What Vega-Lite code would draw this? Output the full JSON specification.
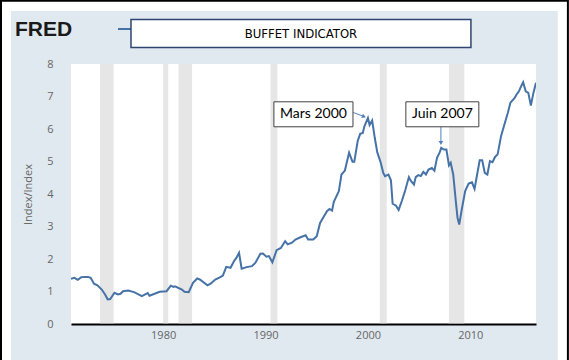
{
  "$schema": "https://vega.github.io/schema/vega-lite/v6.json",
  "width": 465,
  "height": 260,
  "autosize": {"type": "none"},
  "padding": {"left": 71, "top": 64, "right": 33, "bottom": 36},
  "background": "#e1e9f0",
  "config": {
    "view": {"stroke": null, "fill": "white"},
    "axis": {"labelFont": "Open Sans", "labelFontSize": 11, "labelColor": "#666666", "ticks": false, "domain": false, "titleFont": "Open Sans", "titleFontSize": 11, "titleFontWeight": "normal", "titleColor": "#666666"},
    "axisX": {"domain": true, "domainColor": "#000000", "domainWidth": 2, "grid": false, "labelPadding": 5},
    "axisY": {"grid": true, "gridColor": "#d9d9d9", "gridWidth": 1, "labelPadding": 18, "titlePadding": 13}
  },
  "resolve": {"scale": {"y": "independent"}},
  "datasets": {
    "series": [
      {"date":"1971-01-01","value":1.39},{"date":"1971-05-01","value":1.42},{"date":"1971-09-01","value":1.36},{"date":"1972-01-01","value":1.44},{"date":"1972-06-01","value":1.45},{"date":"1972-09-01","value":1.45},{"date":"1972-12-01","value":1.42},{"date":"1973-04-01","value":1.24},{"date":"1973-08-01","value":1.19},{"date":"1974-01-01","value":1.06},{"date":"1974-05-01","value":0.91},{"date":"1974-08-01","value":0.76},{"date":"1974-11-01","value":0.77},{"date":"1975-04-01","value":0.96},{"date":"1975-08-01","value":0.91},{"date":"1975-11-01","value":0.93},{"date":"1976-02-01","value":1.01},{"date":"1976-08-01","value":1.03},{"date":"1977-03-01","value":0.98},{"date":"1977-12-01","value":0.86},{"date":"1978-07-01","value":0.95},{"date":"1978-09-01","value":0.87},{"date":"1979-03-01","value":0.93},{"date":"1979-09-01","value":0.99},{"date":"1980-05-01","value":1.01},{"date":"1980-10-01","value":1.18},{"date":"1981-01-01","value":1.14},{"date":"1981-03-01","value":1.16},{"date":"1981-11-01","value":1.06},{"date":"1982-02-01","value":0.99},{"date":"1982-07-01","value":0.98},{"date":"1982-12-01","value":1.27},{"date":"1983-05-01","value":1.40},{"date":"1983-08-01","value":1.37},{"date":"1984-05-01","value":1.19},{"date":"1984-09-01","value":1.25},{"date":"1985-02-01","value":1.37},{"date":"1985-08-01","value":1.44},{"date":"1985-11-01","value":1.49},{"date":"1986-03-01","value":1.76},{"date":"1986-08-01","value":1.73},{"date":"1986-12-01","value":1.93},{"date":"1987-03-01","value":2.04},{"date":"1987-06-01","value":2.19},{"date":"1987-09-01","value":1.70},{"date":"1988-03-01","value":1.75},{"date":"1988-09-01","value":1.78},{"date":"1989-01-01","value":1.88},{"date":"1989-07-01","value":2.16},{"date":"1989-10-01","value":2.17},{"date":"1990-02-01","value":2.07},{"date":"1990-05-01","value":2.09},{"date":"1990-09-01","value":1.90},{"date":"1991-02-01","value":2.27},{"date":"1991-07-01","value":2.34},{"date":"1991-12-01","value":2.55},{"date":"1992-03-01","value":2.45},{"date":"1992-08-01","value":2.50},{"date":"1992-12-01","value":2.60},{"date":"1993-06-01","value":2.67},{"date":"1993-12-01","value":2.73},{"date":"1994-03-01","value":2.60},{"date":"1994-09-01","value":2.60},{"date":"1995-01-01","value":2.70},{"date":"1995-05-01","value":3.11},{"date":"1995-09-01","value":3.29},{"date":"1996-01-01","value":3.47},{"date":"1996-04-01","value":3.54},{"date":"1996-07-01","value":3.49},{"date":"1996-09-01","value":3.76},{"date":"1997-01-01","value":3.98},{"date":"1997-03-01","value":4.09},{"date":"1997-06-01","value":4.60},{"date":"1997-10-01","value":4.72},{"date":"1998-03-01","value":5.27},{"date":"1998-07-01","value":4.99},{"date":"1998-09-01","value":4.99},{"date":"1999-01-01","value":5.63},{"date":"1999-04-01","value":5.85},{"date":"1999-07-01","value":5.88},{"date":"1999-09-01","value":6.09},{"date":"2000-01-01","value":6.34},{"date":"2000-03-01","value":6.12},{"date":"2000-06-01","value":6.26},{"date":"2000-09-01","value":5.73},{"date":"2000-12-01","value":5.28},{"date":"2001-04-01","value":4.97},{"date":"2001-07-01","value":4.65},{"date":"2001-09-01","value":4.55},{"date":"2002-01-01","value":4.60},{"date":"2002-04-01","value":4.42},{"date":"2002-06-01","value":3.70},{"date":"2002-10-01","value":3.64},{"date":"2003-01-01","value":3.51},{"date":"2003-05-01","value":3.80},{"date":"2003-09-01","value":4.14},{"date":"2004-01-01","value":4.52},{"date":"2004-03-01","value":4.42},{"date":"2004-07-01","value":4.29},{"date":"2004-09-01","value":4.52},{"date":"2004-12-01","value":4.58},{"date":"2005-03-01","value":4.55},{"date":"2005-06-01","value":4.68},{"date":"2005-09-01","value":4.60},{"date":"2005-12-01","value":4.75},{"date":"2006-04-01","value":4.80},{"date":"2006-07-01","value":4.72},{"date":"2006-10-01","value":5.11},{"date":"2007-01-01","value":5.27},{"date":"2007-03-01","value":5.42},{"date":"2007-06-01","value":5.37},{"date":"2007-09-01","value":5.37},{"date":"2007-12-01","value":4.88},{"date":"2008-02-01","value":4.96},{"date":"2008-05-01","value":4.60},{"date":"2008-08-01","value":3.78},{"date":"2008-10-01","value":3.27},{"date":"2008-12-01","value":3.06},{"date":"2009-03-01","value":3.52},{"date":"2009-07-01","value":4.09},{"date":"2009-11-01","value":4.32},{"date":"2010-03-01","value":4.36},{"date":"2010-06-01","value":4.16},{"date":"2010-09-01","value":4.60},{"date":"2010-12-01","value":5.04},{"date":"2011-03-01","value":5.04},{"date":"2011-06-01","value":4.65},{"date":"2011-09-01","value":4.60},{"date":"2011-12-01","value":5.01},{"date":"2012-03-01","value":4.98},{"date":"2012-06-01","value":5.14},{"date":"2012-09-01","value":5.22},{"date":"2013-01-01","value":5.78},{"date":"2013-05-01","value":6.14},{"date":"2013-09-01","value":6.50},{"date":"2013-12-01","value":6.81},{"date":"2014-05-01","value":6.96},{"date":"2014-08-01","value":7.09},{"date":"2014-10-01","value":7.16},{"date":"2015-01-01","value":7.34},{"date":"2015-03-01","value":7.44},{"date":"2015-06-01","value":7.16},{"date":"2015-09-01","value":7.11},{"date":"2015-12-01","value":6.72},{"date":"2016-03-01","value":7.11},{"date":"2016-06-01","value":7.42}
    ],
    "recessions": [
      {"start":"1973-11-01","end":"1975-03-01"},
      {"start":"1980-01-01","end":"1980-07-01"},
      {"start":"1981-07-01","end":"1982-11-01"},
      {"start":"1990-07-01","end":"1991-03-01"},
      {"start":"2001-03-01","end":"2001-11-01"},
      {"start":"2007-12-01","end":"2009-06-01"}
    ]
  },
  "layer": [
    {
      "data": {"values": [{}]},
      "mark": {"type": "rect", "fill": null, "stroke": "white", "strokeWidth": 22, "clip": false},
      "encoding": {
        "x": {"datum": {"year":1964,"month":1,"date":25,"utc":true}, "type": "temporal",
              "scale": {"type": "utc", "domain": [{"year":1971,"month":1,"date":1,"utc":true},{"year":2016,"month":6,"date":1,"utc":true}]}},
        "x2": {"datum": {"year":2019,"month":8,"date":15,"utc":true}},
        "y": {"datum": 9.97, "type": "quantitative", "scale": {"domain": [0, 8], "nice": false}, "axis": null},
        "y2": {"datum": -2}
      }
    },
    {
      "data": {"values": [{}]},
      "mark": {"type": "rect", "fill": null, "stroke": "black", "strokeWidth": 2, "clip": false},
      "encoding": {
        "x": {"datum": {"year":1964,"month":3,"date":1,"utc":true}, "type": "temporal"},
        "x2": {"datum": {"year":2019,"month":7,"date":14,"utc":true}},
        "y": {"datum": 9.95, "type": "quantitative", "scale": {"domain": [0, 8], "nice": false}, "axis": null},
        "y2": {"datum": -2}
      }
    },
    {
      "data": {"name": "recessions"},
      "mark": {"type": "rect", "fill": "#c8c8c8", "opacity": 0.45},
      "encoding": {
        "x": {"field": "start", "type": "temporal"},
        "x2": {"field": "end"}
      }
    },
    {
      "data": {"name": "series"},
      "mark": {"type": "line", "color": "#4572a7", "strokeWidth": 2, "clip": true},
      "encoding": {
        "x": {"field": "date", "type": "temporal", "title": null,
              "axis": {"values": [{"year":1980,"month":1,"date":1,"utc":true},{"year":1990,"month":1,"date":1,"utc":true},{"year":2000,"month":1,"date":1,"utc":true},{"year":2010,"month":1,"date":1,"utc":true}], "format": "%Y"}},
        "y": {"field": "value", "type": "quantitative", "title": "Index/Index",
              "scale": {"domain": [0, 8], "nice": false},
              "axis": {"orient": "left", "values": [0,1,2,3,4,5,6,7,8], "labelOverlap": false}}
      }
    },
    {
      "data": {"values": [{}]},
      "mark": {"type": "rule", "color": "#4f81bd", "strokeWidth": 1},
      "encoding": {
        "x": {"datum": {"year":1998,"month":7,"date":27,"utc":true}, "type": "temporal"},
        "x2": {"datum": {"year":1999,"month":8,"date":20,"utc":true}},
        "y": {"datum": 6.508, "type": "quantitative", "scale": {"domain": [0, 8], "nice": false}, "axis": null},
        "y2": {"datum": 6.38}
      }
    },
    {
      "data": {"values": [{}]},
      "mark": {"type": "point", "shape": "triangle", "angle": 111, "size": 22, "filled": true, "opacity": 1, "color": "#4f81bd"},
      "encoding": {
        "x": {"datum": {"year":1999,"month":7,"date":23,"utc":true}, "type": "temporal"},
        "y": {"datum": 6.388, "type": "quantitative", "scale": {"domain": [0, 8], "nice": false}, "axis": null}
      }
    },
    {
      "data": {"values": [{}]},
      "mark": {"type": "rule", "color": "#4f81bd", "strokeWidth": 1},
      "encoding": {
        "x": {"datum": {"year":2007,"month":2,"date":17,"utc":true}, "type": "temporal"},
        "y": {"datum": 6.068, "type": "quantitative", "scale": {"domain": [0, 8], "nice": false}, "axis": null},
        "y2": {"datum": 5.6}
      }
    },
    {
      "data": {"values": [{}]},
      "mark": {"type": "point", "shape": "triangle-down", "size": 22, "filled": true, "opacity": 1, "color": "#4f81bd"},
      "encoding": {
        "x": {"datum": {"year":2007,"month":2,"date":17,"utc":true}, "type": "temporal"},
        "y": {"datum": 5.57, "type": "quantitative", "scale": {"domain": [0, 8], "nice": false}, "axis": null}
      }
    },
    {
      "data": {"values": [{}]},
      "mark": {"type": "rect", "fill": "white", "stroke": "#404040", "strokeWidth": 1},
      "encoding": {
        "x": {"datum": {"year":1990,"month":10,"date":26,"utc":true}, "type": "temporal"},
        "x2": {"datum": {"year":1998,"month":7,"date":17,"utc":true}},
        "y": {"datum": 6.837, "type": "quantitative", "scale": {"domain": [0, 8], "nice": false}, "axis": null},
        "y2": {"datum": 6.068}
      }
    },
    {
      "data": {"values": [{}]},
      "mark": {"type": "text", "text": "Mars 2000", "font": "Lato", "fontSize": 14, "color": "black", "align": "center", "baseline": "middle"},
      "encoding": {
        "x": {"datum": {"year":1994,"month":9,"date":5,"utc":true}, "type": "temporal"},
        "y": {"datum": 6.452, "type": "quantitative", "scale": {"domain": [0, 8], "nice": false}, "axis": null}
      }
    },
    {
      "data": {"values": [{}]},
      "mark": {"type": "rect", "fill": "white", "stroke": "#404040", "strokeWidth": 1},
      "encoding": {
        "x": {"datum": {"year":2003,"month":9,"date":16,"utc":true}, "type": "temporal"},
        "x2": {"datum": {"year":2010,"month":11,"date":1,"utc":true}},
        "y": {"datum": 6.837, "type": "quantitative", "scale": {"domain": [0, 8], "nice": false}, "axis": null},
        "y2": {"datum": 6.068}
      }
    },
    {
      "data": {"values": [{}]},
      "mark": {"type": "text", "text": "Juin 2007", "font": "Lato", "fontSize": 14, "color": "black", "align": "center", "baseline": "middle"},
      "encoding": {
        "x": {"datum": {"year":2007,"month":4,"date":12,"utc":true}, "type": "temporal"},
        "y": {"datum": 6.452, "type": "quantitative", "scale": {"domain": [0, 8], "nice": false}, "axis": null}
      }
    },
    {
      "data": {"values": [{}]},
      "mark": {"type": "rule", "color": "#4572a7", "strokeWidth": 2, "clip": false},
      "encoding": {
        "x": {"datum": {"year":1975,"month":8,"date":4,"utc":true}, "type": "temporal"},
        "x2": {"datum": {"year":1976,"month":11,"date":10,"utc":true}},
        "y": {"datum": 9.077, "type": "quantitative", "scale": {"domain": [0, 8], "nice": false}, "axis": null}
      }
    },
    {
      "data": {"values": [{}]},
      "mark": {"type": "rect", "fill": "white", "stroke": "#2f4670", "strokeWidth": 1.5, "clip": false},
      "encoding": {
        "x": {"datum": {"year":1976,"month":11,"date":10,"utc":true}, "type": "temporal"},
        "x2": {"datum": {"year":2010,"month":1,"date":23,"utc":true}},
        "y": {"datum": 9.369, "type": "quantitative", "scale": {"domain": [0, 8], "nice": false}, "axis": null},
        "y2": {"datum": 8.508}
      }
    },
    {
      "data": {"values": [{}]},
      "mark": {"type": "text", "text": "BUFFET INDICATOR", "font": "Liberation Sans Narrow, DejaVu Sans Condensed, Lato", "fontSize": 13, "color": "black", "align": "center", "baseline": "middle", "clip": false},
      "encoding": {
        "x": {"datum": {"year":1993,"month":6,"date":17,"utc":true}, "type": "temporal"},
        "y": {"datum": 8.938, "type": "quantitative", "scale": {"domain": [0, 8], "nice": false}, "axis": null}
      }
    },
    {
      "data": {"values": [{}]},
      "mark": {"type": "text", "text": "FRED", "font": "Liberation Sans", "fontWeight": "bold", "fontSize": 21, "color": "#1a1a1a", "align": "left", "baseline": "alphabetic", "clip": false},
      "encoding": {
        "x": {"datum": {"year":1965,"month":7,"date":10,"utc":true}, "type": "temporal"},
        "y": {"datum": 8.85, "type": "quantitative", "scale": {"domain": [0, 8], "nice": false}, "axis": null}
      }
    }
  ]
}
